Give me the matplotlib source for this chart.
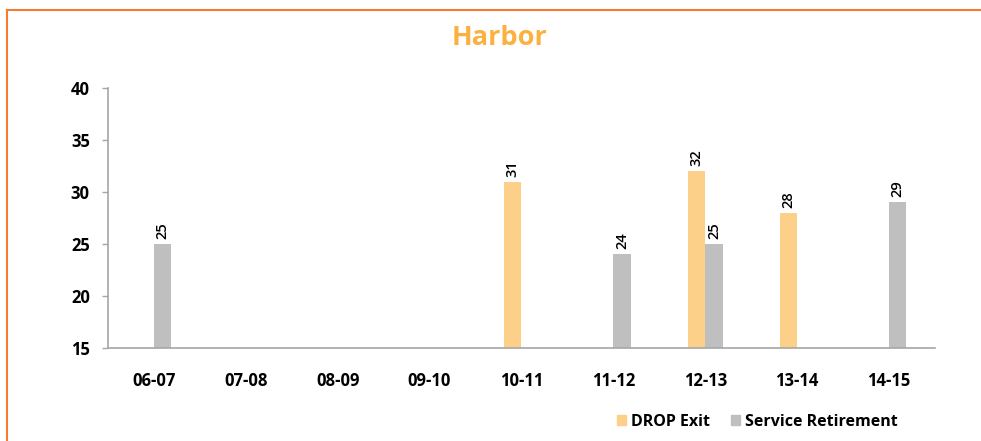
import numpy as np
import matplotlib
matplotlib.use("Agg")
import matplotlib.pyplot as plt
from matplotlib.lines import Line2D
from matplotlib.patches import Patch

# data
categories = ['06-07', '07-08', '08-09', '09-10', '10-11', '11-12', '12-13', '13-14', '14-15']
drop_exit = [np.nan, np.nan, np.nan, np.nan, 31, np.nan, 32, 28, np.nan]
service_ret = [25, np.nan, np.nan, np.nan, np.nan, 24, 25, np.nan, 29]
yticks = [15, 20, 25, 30, 35, 40]

orange = '#FDD08A'
gray = '#BFBFBF'
title_col = '#FBB040'
border_col = '#F47C30'

plt.rcParams['font.family'] = ['Open Sans', 'DejaVu Sans']

fig = plt.figure(figsize=(9.81, 4.41), dpi=100)
ax = fig.add_axes([0.110, 0.211, 0.843, 0.589])

x = np.arange(len(categories))
w = 0.19
ax.bar(x - w / 2, drop_exit, w, color=orange, label='DROP Exit')
ax.bar(x + w / 2, service_ret, w, color=gray, label='Service Retirement')

# value labels, rotated like the original
for xs, vals in [(x - w / 2, drop_exit), (x + w / 2, service_ret)]:
    for xi, v in zip(xs, vals):
        if not np.isnan(v):
            ax.text(xi, v + 0.5, f'{v:.0f}', rotation=90, ha='center', va='bottom',
                    fontsize=10.5, fontweight='semibold', color='black')

ax.set_xlim(-0.5, len(categories) - 0.5)
ax.set_ylim(15, 40)
ax.set_yticks(yticks)
ax.set_xticks(x)
ax.set_xticklabels(categories, fontsize=12, fontweight='bold')
for lbl in ax.get_yticklabels():
    lbl.set_fontsize(12)
    lbl.set_fontweight('bold')

for s in ['top', 'right']:
    ax.spines[s].set_visible(False)
for s in ['left', 'bottom']:
    ax.spines[s].set_color('#A6A6A6')
    ax.spines[s].set_linewidth(1.2)
ax.tick_params(axis='x', length=0, pad=17)
ax.tick_params(axis='y', length=4, color='#A6A6A6', pad=9, width=1)

fig.text(0.509, 0.914, 'Harbor', ha='center', va='center', fontsize=19.5,
         fontweight='bold', color=title_col)

handles = [Patch(color=orange), Patch(color=gray)]
fig.legend(handles, ['DROP Exit', 'Service Retirement'], loc='center',
           bbox_to_anchor=(0.772, 0.043), ncol=2, frameon=False,
           prop={'weight': 'bold', 'size': 11.5}, handlelength=0.6, handleheight=0.6,
           handletextpad=0.3, columnspacing=1.3)

# orange frame on top and left
fig.add_artist(Line2D([0.0075, 1.0], [0.977, 0.977], color=border_col, lw=1.5,
                      transform=fig.transFigure))
fig.add_artist(Line2D([0.0075, 0.0075], [0.0, 0.977], color=border_col, lw=1.5,
                      transform=fig.transFigure))

fig.savefig('out.png', dpi=100)
